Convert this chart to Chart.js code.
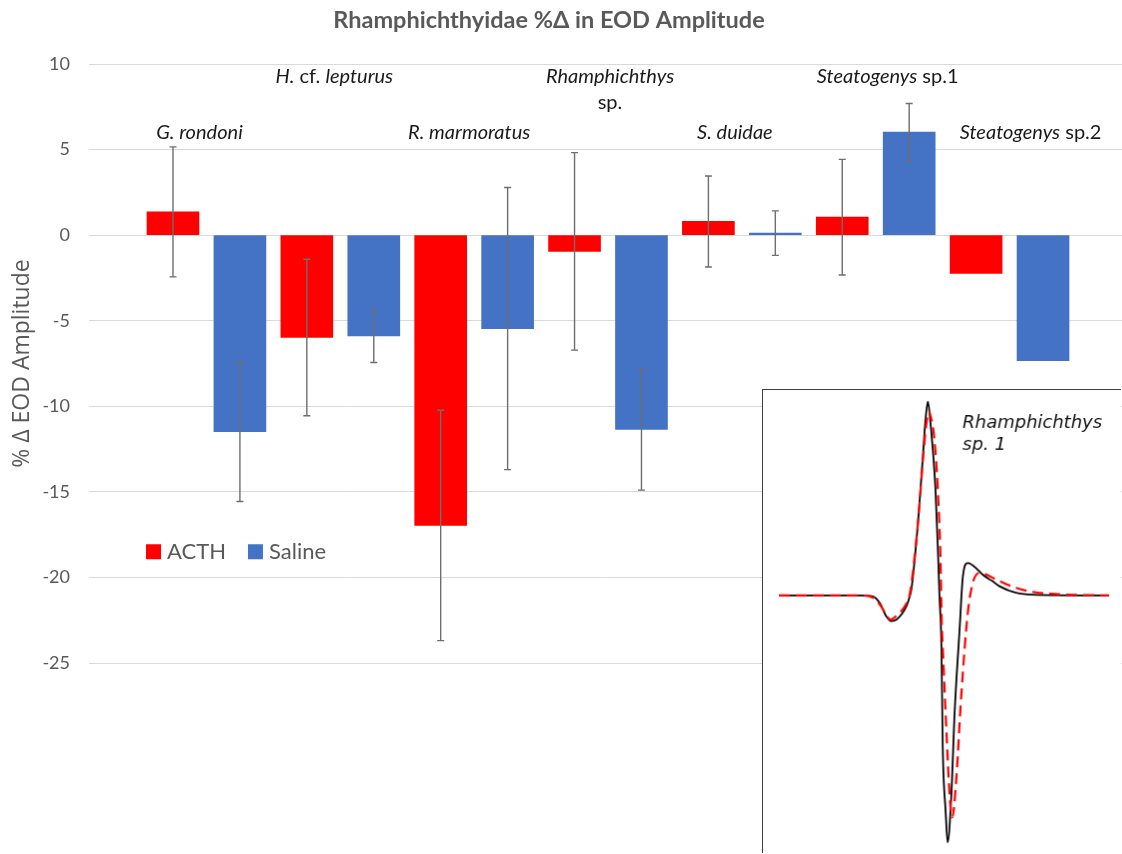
<!DOCTYPE html>
<html>
<head>
<meta charset="utf-8">
<script src="https://cdn.jsdelivr.net/npm/chart.js@4.4.0/dist/chart.umd.min.js"></script>
<style>
body { margin: 0; background: #fff; }
#wrap { position: relative; width: 1122px; height: 854px; overflow: hidden; }
#inset { position: absolute; left: 762px; top: 389px; border-left: 1px solid #404040; border-top: 1px solid #404040; background: #fff; }
</style>
</head>
<body>
<div id="wrap">
  <canvas id="main" width="1122" height="854"></canvas>
  <canvas id="inset" width="359" height="464"></canvas>
</div>
<script>
// species names, *...* = italic part
const species = ['*G. rondoni*', '*H.* cf. *lepturus*', '*R. marmoratus*', '*Rhamphichthys*\nsp.',
                 '*S. duidae*', '*Steatogenys* sp.1', '*Steatogenys* sp.2'];
const acth      = [1.36, -5.98, -16.96, -0.95, 0.80, 1.05, -2.24];
const acthErr   = [3.8, 4.57, 6.73, 5.77, 2.66, 3.38, null];
const saline    = [-11.48, -5.89, -5.46, -11.35, 0.12, 6.02, -7.33];
const salineErr = [4.08, 1.55, 8.24, 3.55, 1.3, 1.67, null];
const yTicks = [10, 5, 0, -5, -10, -15, -20, -25];

// inset EOD waveform (time a.u., amplitude normalised to peak)
const blackT = [0, 24.5, 28.4, 30.5, 32.5, 34.0, 35.6, 38.6, 39.6, 40.1, 42.1, 43.6, 44.3, 45.1, 45.9, 47.4, 48.2, 48.6,
                49.2, 49.6, 50.5, 51.1, 52.2, 53.2, 54.7, 55.7, 57.2, 60.7, 61.7, 64.7, 66.8, 71.8, 76.8, 100];
const blackV = [0, 0, -0.005, -0.038, -0.107, -0.132, -0.124, -0.055, -0.004, 0.031, 0.376, 0.717, 0.889, 1.0, 0.889, 0.546, 0.202, 0,
                -0.261, -0.776, -1.118, -1.273, -1.033, -0.604, -0.175, 0.099, 0.168, 0.125, 0.108, 0.074, 0.048, 0.014, 0.004, 0];
const redT = [0, 24.5, 28.4, 30.5, 32.5, 33.7, 35.6, 38.6, 39.6, 42.1, 43.6, 44.6, 45.4, 46.2, 47.1, 48.1, 48.9, 49.3,
              49.6, 50.7, 51.7, 52.5, 53.7, 55.2, 57.2, 58.7, 60.7, 66.8, 71.8, 76.8, 81.9, 100];
const redV = [0, 0, -0.01, -0.046, -0.098, -0.124, -0.103, -0.041, 0.005, 0.376, 0.7, 0.88, 0.949, 0.906, 0.803, 0.546, 0.202, -0.141,
              -0.261, -0.690, -1.033, -1.144, -0.947, -0.518, -0.089, 0.065, 0.117, 0.074, 0.040, 0.019, 0.009, 0];

const grey = '#595959';

const errorBars = {
  id: 'errorBars',
  afterDatasetsDraw(chart) {
    const ctx = chart.ctx, ys = chart.scales.y;
    chart.data.datasets.forEach((ds, di) => {
      chart.getDatasetMeta(di).data.forEach((bar, i) => {
        const e = ds.errors[i];
        if (e == null) return;
        const v = ds.data[i].y;
        const t = ys.getPixelForValue(v + e), b = ys.getPixelForValue(v - e);
        ctx.save();
        ctx.strokeStyle = '#6e6e6e';
        ctx.lineWidth = 1.4;
        ctx.beginPath();
        ctx.moveTo(bar.x, t); ctx.lineTo(bar.x, b);
        ctx.moveTo(bar.x - 3.5, t); ctx.lineTo(bar.x + 3.5, t);
        ctx.moveTo(bar.x - 3.5, b); ctx.lineTo(bar.x + 3.5, b);
        ctx.stroke();
        ctx.restore();
      });
    });
  }
};

const extras = {
  id: 'extras',
  afterDraw(chart) {
    const ctx = chart.ctx, xs = chart.scales.x, ys = chart.scales.y;
    ctx.save();
    // title
    ctx.fillStyle = grey;
    ctx.font = 'bold 23.5px Lato';
    ctx.textAlign = 'center';
    ctx.textBaseline = 'middle';
    ctx.fillText('Rhamphichthyidae %Δ in EOD Amplitude', 549, 20);

    // species names above each pair of bars (small hand nudges like the text boxes in the original)
    const nudge = [-7, -6, -5, 2, -7, 12, 21];
    ctx.fillStyle = '#1a1a1a';
    ctx.textAlign = 'left';
    species.forEach((name, p) => {
      const cx = (xs.getPixelForValue(2 * p) + xs.getPixelForValue(2 * p + 1)) / 2 + nudge[p];
      let y = ys.getPixelForValue(p % 2 ? 9.25 : 6.0);
      name.split('\n').forEach(line => {
        const parts = line.split('*');
        let w = 0;
        parts.forEach((s, k) => { ctx.font = (k % 2 ? 'italic ' : '') + '20px Lato'; w += ctx.measureText(s).width; });
        let x = cx - w / 2;
        parts.forEach((s, k) => {
          ctx.font = (k % 2 ? 'italic ' : '') + '20px Lato';
          ctx.fillText(s, x, y);
          x += ctx.measureText(s).width;
        });
        y += 26;
      });
    });

    // legend
    let lx = chart.chartArea.left + 57;
    const ly = ys.getPixelForValue(-18.5);
    ctx.font = '22px Lato';
    chart.data.datasets.forEach(ds => {
      ctx.fillStyle = ds.backgroundColor;
      ctx.fillRect(lx, ly - 7.5, 15, 15);
      lx += 21;
      ctx.fillStyle = grey;
      ctx.fillText(ds.label, lx, ly);
      lx += ctx.measureText(ds.label).width + 22;
    });
    ctx.restore();
  }
};

new Chart(document.getElementById('main'), {
  type: 'bar',
  data: {
    datasets: [
      { label: 'ACTH', data: acth.map((v, i) => ({ x: 2 * i, y: v })), errors: acthErr, backgroundColor: '#ff0000' },
      { label: 'Saline', data: saline.map((v, i) => ({ x: 2 * i + 1, y: v })), errors: salineErr, backgroundColor: '#4472c4' }
    ]
  },
  options: {
    responsive: false,
    animation: false,
    grouped: false,
    barThickness: 52,
    layout: { padding: { top: 64, bottom: 191, left: 0, right: 0 } },
    plugins: { legend: { display: false }, title: { display: false }, tooltip: { enabled: false } },
    scales: {
      x: { type: 'linear', display: false, min: -1.255, max: 14.18, offset: false },
      y: {
        min: -25, max: 10,
        afterFit: s => { s.width = 89; },
        afterBuildTicks: s => { s.ticks = yTicks.map(v => ({ value: v })); },
        grid: { color: '#d9d9d9', lineWidth: 1, drawTicks: false },
        border: { display: false },
        ticks: { color: grey, font: { family: 'Lato', size: 18 }, padding: 19 },
        title: { display: true, text: '% Δ EOD Amplitude', color: grey, font: { family: 'Open Sans', size: 23 }, padding: { top: 9, bottom: 0 } }
      }
    }
  },
  plugins: [errorBars, extras]
});

const insetLabel = {
  id: 'insetLabel',
  afterDraw(chart) {
    const ctx = chart.ctx;
    ctx.save();
    ctx.fillStyle = '#111';
    ctx.font = 'italic 18px "DejaVu Sans"';
    ctx.textBaseline = 'alphabetic';
    ctx.fillText('Rhamphichthys', 200, 38);
    ctx.fillText('sp. 1', 200, 60);
    ctx.restore();
  }
};

new Chart(document.getElementById('inset'), {
  type: 'line',
  data: {
    datasets: [
      { data: redT.map((t, i) => ({ x: t, y: redV[i] })), borderColor: '#ff0000', borderWidth: 2.2, borderDash: [11, 6],
        pointRadius: 0, cubicInterpolationMode: 'monotone', order: 0 },
      { data: blackT.map((t, i) => ({ x: t, y: blackV[i] })), borderColor: '#000000', borderWidth: 1.8,
        pointRadius: 0, cubicInterpolationMode: 'monotone', order: 1 }
    ]
  },
  options: {
    responsive: false,
    animation: false,
    layout: { padding: 0 },
    plugins: { legend: { display: false }, tooltip: { enabled: false } },
    scales: {
      x: { type: 'linear', display: false, min: -4.83, max: 103.6 },
      y: { display: false, min: -1.328, max: 1.06 }
    }
  },
  plugins: [insetLabel]
});
</script>
</body>
</html>
